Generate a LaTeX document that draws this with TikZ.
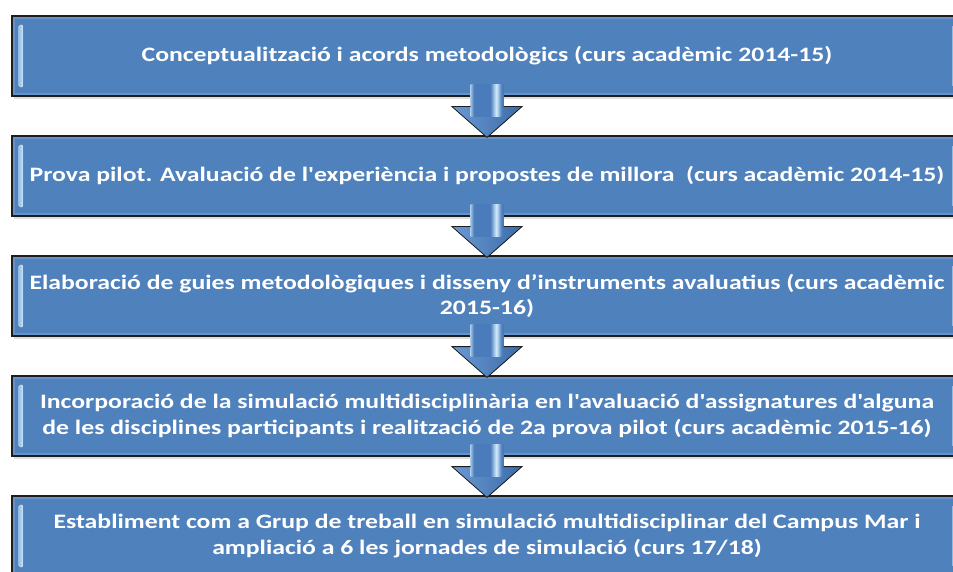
\documentclass[tikz,border=0pt]{standalone}
\usepackage{fontspec}
\newfontfamily\boxfont{Carlito}[Ligatures=TeXOff, FakeStretch=1.255]
\usetikzlibrary{calc,shadows}
\definecolor{boxblue}{HTML}{4F81BD}
\definecolor{bevelc}{HTML}{6E98CD}
\definecolor{hilite}{HTML}{C9E8FF}
\definecolor{shB}{HTML}{4A7CBB}
\definecolor{shD}{HTML}{3B6AA6}
\definecolor{shL}{HTML}{D6EEFF}
\definecolor{headL}{HTML}{6A9AD6}
\definecolor{headD}{HTML}{3C6BA8}
\definecolor{edgec}{HTML}{1E1E1E}
\pgfdeclarehorizontalshading{shaftshade}{100bp}{color(0bp)=(shD); color(14bp)=(shB); color(22bp)=(shL); color(30bp)=(shB); color(55bp)=(shB); color(64bp)=(shL); color(72bp)=(shB); color(90bp)=(shD); color(100bp)=(shD)}
\tikzset{
  stepbox/.style={draw=edgec, line width=1.2pt, fill=boxblue, minimum width=950pt, minimum height=80pt,
    inner sep=0pt, align=center, text=white, font=\boxfont\bfseries\fontsize{20.5}{25.5}\selectfont,
    drop shadow={shadow xshift=2pt, shadow yshift=-3pt, opacity=0.25, fill=black!50}},
  bevelline/.style={draw=bevelc, line width=2.5pt, opacity=0.8},
  hibar/.style={left color=boxblue!40!hilite, right color=hilite, rounded corners=2pt},
  shaftfill/.style={shading=shaftshade},
  headfill/.style={left color=headL, right color=headD},
  headline/.style={draw=edgec, line width=0.8pt, line join=miter}
}
\begin{document}
\begin{tikzpicture}[x=1pt,y=-1pt]
\useasboundingbox (0,0) rectangle (953,572);
\clip (0,0) rectangle (953,572);
\node[stepbox] (b1) at (487,56) {Conceptualització i acords metodològics (curs acadèmic 2014-15)};
\node[stepbox] (b2) at (487,176) {Prova pilot. Avaluació de l'experiència i propostes de millora\ \ (curs acadèmic 2014-15)};
\node[stepbox] (b3) at (487,296) {Elaboració de guies metodològiques i disseny d’instruments avaluatius (curs acadèmic\\2015-16)};
\node[stepbox] (b4) at (487,416) {Incorporació de la simulació multidisciplinària en l'avaluació d'assignatures d'alguna\\de les disciplines participants i realització de 2a prova pilot (curs acadèmic 2015-16)};
\node[stepbox] (b5) at (487,536) {Establiment com a Grup de treball en simulació multidisciplinar del Campus Mar i\\ampliació a 6 les jornades de simulació (curs 17/18)};
\foreach \i in {1,...,5}{
  \draw[bevelline] ($(b\i.north west)+(2.5,2.5)$) rectangle ($(b\i.south east)+(-2.5,-2.5)$);
  \fill[hibar] ($(b\i.north west)+(7,9)$) rectangle ($(b\i.south west)+(12,-9)$);
  \fill[hibar] ($(b\i.north east)+(-10,9)$) rectangle ($(b\i.south east)+(-5,-9)$);
}
\foreach \a/\b in {b1/b2,b2/b3,b3/b4,b4/b5}{
  \path[shaftfill] ($(\a.south)+(-16.5,-12)$) rectangle ($(\a.south)+(16.5,11)$);
  \fill[headfill] ($(\a.south)+(-16.5,10)$) -- ($(\a.south)+(-35,10)$) -- ($(\b.north)+(0,2)$)
     -- ($(\a.south)+(35,10)$) -- ($(\a.south)+(16.5,10)$) -- cycle;
  \path[shaftfill] ($(\a.south)+(-16.5,9)$) rectangle ($(\a.south)+(16.5,20)$);
  \draw[headline] ($(\a.south)+(-16.5,10)$) -- ($(\a.south)+(-35,10)$) -- ($(\b.north)+(0,2)$)
     -- ($(\a.south)+(35,10)$) -- ($(\a.south)+(16.5,10)$);
}
\end{tikzpicture}
\end{document}
